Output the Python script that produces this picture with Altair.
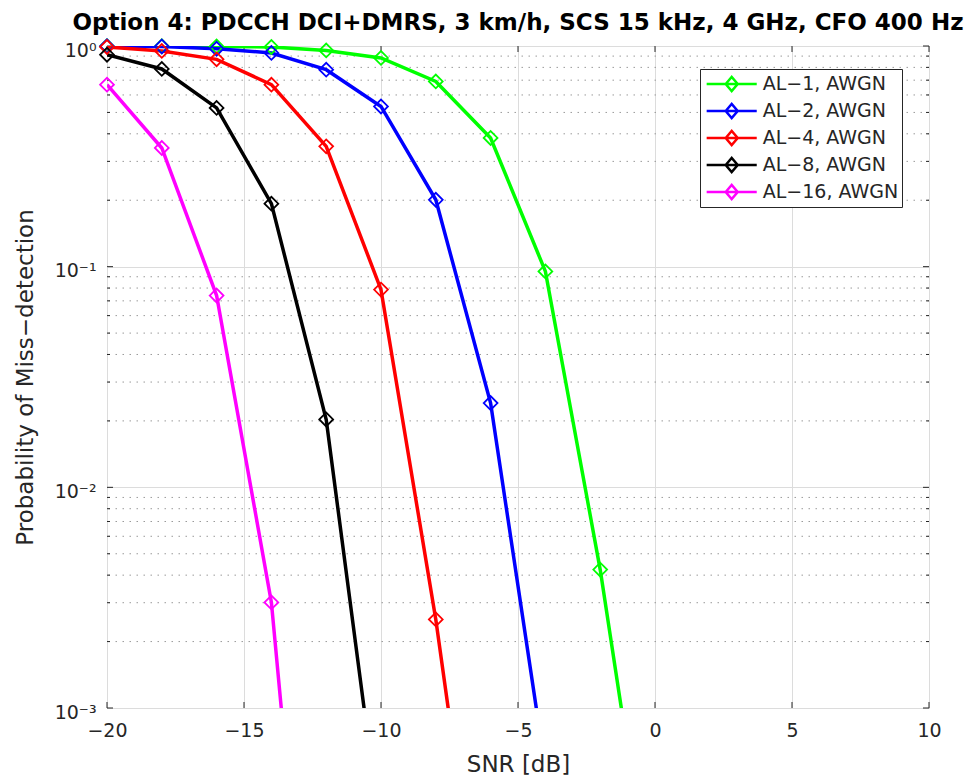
import altair as alt
import pandas as pd

# ---- data ----
snr = [-20, -18, -16, -14, -12, -10, -8, -6, -4, -2, 0]
al1 = [0.998, 0.997, 0.995, 0.99, 0.955, 0.883, 0.691, 0.383, 0.0952, 0.00424, 1.0e-4]
al2 = [0.998, 0.995, 0.972, 0.93, 0.781, 0.532, 0.201, 0.0241, 5.3e-4]
al4 = [0.99, 0.95, 0.87, 0.668, 0.351, 0.0787, 0.00252, 4.2e-5]
al8 = [0.913, 0.787, 0.524, 0.193, 0.0203, 2.6e-4]
al16 = [0.668, 0.345, 0.074, 0.00301, 6.6e-6]

series = ["AL−1, AWGN", "AL−2, AWGN", "AL−4, AWGN", "AL−8, AWGN", "AL−16, AWGN"]
colors = ["#00ff00", "#0000ff", "#ff0000", "#000000", "#ff00ff"]

x_ticks = [-20, -15, -10, -5, 0, 5, 10]
y_ticks = [0.001, 0.01, 0.1, 1]
y_tick_labels = ["10⁻³", "10⁻²", "10⁻¹", "10⁰"]
y_minor = [0.002, 0.003, 0.004, 0.005, 0.006, 0.007, 0.008, 0.009,
           0.02, 0.03, 0.04, 0.05, 0.06, 0.07, 0.08, 0.09,
           0.2, 0.3, 0.4, 0.5, 0.6, 0.7, 0.8, 0.9]

title = "Option 4: PDCCH DCI+DMRS, 3 km/h, SCS 15 kHz, 4 GHz, CFO 400 Hz"
x_title = "SNR [dB]"
y_title = "Probability of Miss−detection"

# ---- tables ----
rows = []
for name, vals in zip(series, [al1, al2, al4, al8, al16]):
    for i, v in enumerate(vals):
        rows.append({"snr": snr[i], "p": v, "series": name, "order": i})
df = pd.DataFrame(rows)
xt = pd.DataFrame({"x": x_ticks})
yt = pd.DataFrame({"y": y_ticks})
ym = pd.DataFrame({"y": y_minor})

W, H = 822, 662
FONT = "DejaVu Sans"
TXT = "#262626"

label_expr = "[" + ",".join("'%s'" % s for s in y_tick_labels) + "][round(log(datum.value)/LN10)+3]"

xscale = alt.Scale(domain=[-20, 10], nice=False, zero=False)
yscale = alt.Scale(type="log", domain=[0.001, 1], nice=False)

xaxis = alt.Axis(values=x_ticks, grid=True, gridColor="#dcdcdc", gridWidth=1,
                 ticks=False, domain=False, labelFlush=False, labelOverlap=False,
                 labelFont=FONT, labelFontSize=19, labelColor=TXT, labelPadding=13,
                 format="d", title=x_title, titleFont=FONT, titleFontSize=23,
                 titleFontWeight="normal", titleColor=TXT, titlePadding=13)
yaxis = alt.Axis(values=y_ticks, grid=True, gridColor="#dcdcdc", gridWidth=1,
                 ticks=False, domain=False, labelFlush=False, labelOverlap=False,
                 labelExpr=label_expr, labelFont=FONT, labelFontSize=19,
                 labelColor=TXT, labelPadding=11, labelOffset=4,
                 title=y_title, titleFont=FONT, titleFontSize=23,
                 titleFontWeight="normal", titleColor=TXT, titlePadding=17)

minor_grid = alt.Chart(ym).mark_rule(color="#9a9a9a", strokeWidth=1,
                                     strokeDash=[1.5, 5.5]).encode(
    y=alt.Y("y:Q", scale=yscale, axis=yaxis)
)

legend_path = "M-2.33,0L2.33,0M-0.56,0L0,-0.65L0.56,0L0,0.65Z"

lines = alt.Chart(df).mark_line(strokeWidth=3.5, clip=True).encode(
    x=alt.X("snr:Q", scale=xscale, axis=xaxis),
    y=alt.Y("p:Q", scale=yscale, axis=yaxis),
    color=alt.Color("series:N", scale=alt.Scale(domain=series, range=colors),
                    title=None,
                    legend=alt.Legend(orient="none", legendX=593, legendY=23,
                                      symbolType=legend_path, symbolSize=462,
                                      symbolStrokeWidth=2.5,
                                      symbolFillColor="transparent",
                                      symbolOffset=16.7, labelOffset=19,
                                      labelFont=FONT, labelFontSize=19,
                                      labelColor=TXT, padding=3, rowPadding=3,
                                      strokeColor=TXT, fillColor="white",
                                      labelLimit=300)),
    order="order:Q",
)

points = alt.Chart(df).transform_filter("datum.p >= 0.001").mark_point(
    shape="diamond", filled=False, size=190, strokeWidth=1.8, opacity=1
).encode(
    x=alt.X("snr:Q", scale=xscale),
    y=alt.Y("p:Q", scale=yscale),
    color=alt.Color("series:N", scale=alt.Scale(domain=series, range=colors), legend=None),
)

xt_bot = alt.Chart(xt).mark_rule(color=TXT, strokeWidth=1).encode(
    x=alt.X("x:Q", scale=xscale), y=alt.value(H), y2=alt.value(H - 6))
xt_top = alt.Chart(xt).mark_rule(color=TXT, strokeWidth=1).encode(
    x=alt.X("x:Q", scale=xscale), y=alt.value(0), y2=alt.value(6))
yt_left = alt.Chart(yt).mark_rule(color=TXT, strokeWidth=1).encode(
    y=alt.Y("y:Q", scale=yscale), x=alt.value(0), x2=alt.value(6))
yt_right = alt.Chart(yt).mark_rule(color=TXT, strokeWidth=1).encode(
    y=alt.Y("y:Q", scale=yscale), x=alt.value(W), x2=alt.value(W - 6))
ym_left = alt.Chart(ym).mark_rule(color=TXT, strokeWidth=1).encode(
    y=alt.Y("y:Q", scale=yscale), x=alt.value(0), x2=alt.value(3))
ym_right = alt.Chart(ym).mark_rule(color=TXT, strokeWidth=1).encode(
    y=alt.Y("y:Q", scale=yscale), x=alt.value(W), x2=alt.value(W - 3))

chart = alt.layer(
    minor_grid, xt_bot, xt_top, yt_left, yt_right, ym_left, ym_right, lines, points
).properties(
    width=W, height=H,
    title=alt.Title(title, font=FONT, fontSize=23, fontWeight="bold",
                    color="#000000", anchor="middle", offset=1),
    autosize=alt.AutoSizeParams(type="none"),
    padding={"left": 107, "top": 46, "right": 50, "bottom": 71},
).configure_view(
    stroke=TXT, strokeWidth=1.3
).configure(background="white")

chart.save("out.html", embed_options={"renderer": "svg", "actions": False})
